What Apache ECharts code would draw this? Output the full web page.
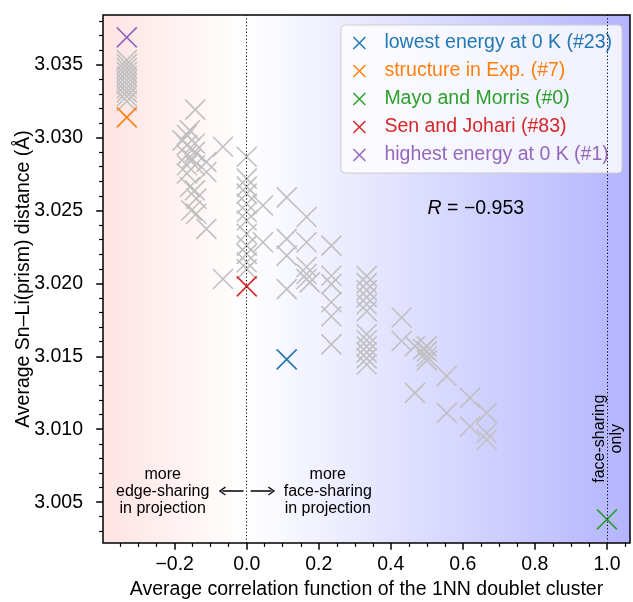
<!DOCTYPE html>
<html>
<head>
<meta charset="utf-8">
<title>Sn-Li(prism) distance vs. 1NN doublet correlation</title>
<script src="https://cdn.jsdelivr.net/npm/echarts@6.0.0/dist/echarts.min.js"></script>
<style>
html, body { margin: 0; padding: 0; background: #fff; }
#echarts_box { width: 633px; height: 602px; }
</style>
</head>
<body>
<div id="echarts_box"></div>
<script>
// all structures (gray crosses)
var grayX = [
    -0.333, -0.333, -0.333, -0.333, -0.333, -0.333, -0.333, -0.333, -0.333, -0.333, -0.333,
    -0.143, -0.178, -0.158, -0.166, -0.166, -0.144, -0.166, -0.153, -0.144, -0.166, -0.144,
    -0.166, -0.112, -0.112, -0.066, -0.158, -0.144, -0.140, -0.154, -0.140, -0.112, -0.066,
    0.0, 0.0, 0.0, 0.0, 0.0, 0.0, 0.0, 0.0, 0.0, 0.0, 0.0, 0.0,
    0.045, 0.045,
    0.111, 0.111, 0.111, 0.111,
    0.166, 0.166, 0.166, 0.166, 0.166, 0.175,
    0.235, 0.235, 0.235, 0.235, 0.235, 0.235,
    0.333, 0.333, 0.333, 0.333, 0.333, 0.333, 0.333, 0.333, 0.333, 0.333, 0.333, 0.333,
    0.43, 0.43,
    0.467, 0.467,
    0.5, 0.5, 0.5, 0.5, 0.49,
    0.555, 0.555,
    0.62, 0.62,
    0.666, 0.666, 0.666
];
var grayY = [
    3.03531, 3.03503, 3.03476, 3.03448, 3.03421, 3.03393, 3.03366, 3.03338, 3.03311, 3.03283, 3.03249,
    3.03191, 3.02980, 3.03049, 3.03017, 3.02948, 3.02959, 3.02879, 3.02856, 3.02902, 3.02810, 3.02810,
    3.02753, 3.02833, 3.02764, 3.02937, 3.02661, 3.02638, 3.02581, 3.02500, 3.02477, 3.02374, 3.02030,
    3.02868, 3.02718, 3.02663, 3.02615, 3.02546, 3.02489, 3.02431, 3.02340, 3.02259, 3.02202, 3.02145, 3.02098,
    3.02534, 3.02282,
    3.02590, 3.02305, 3.02190, 3.01961,
    3.02455, 3.02282, 3.02112, 3.02064, 3.02030, 3.02007,
    3.02259, 3.02052, 3.01995, 3.01871, 3.01775, 3.01582,
    3.02050, 3.02002, 3.01954, 3.01906, 3.01857, 3.01809, 3.01651, 3.01610, 3.01568, 3.01527, 3.01486, 3.01444,
    3.01766, 3.01605,
    3.01570, 3.01249,
    3.01568, 3.01534, 3.01499, 3.01472, 3.01548,
    3.01364, 3.01112,
    3.01215, 3.01019,
    3.01112, 3.00974, 3.00928
];

// highlighted structures
var markLabels = [
    'lowest energy at 0 K (#23)',
    'structure in Exp. (#7)',
    'Mayo and Morris (#0)',
    'Sen and Johari (#83)',
    'highest energy at 0 K (#1)'
];
var markX = [0.111, -0.333, 1.0, 0.0, -0.333];
var markY = [3.01479, 3.03138, 3.00382, 3.01979, 3.03687];
var markColors = ['#1f77b4', '#ff7f0e', '#2ca02c', '#d62728', '#9467bd'];

// tick labels
var xTicks = [-0.2, 0.0, 0.2, 0.4, 0.6, 0.8, 1.0];
var yTicks = [3.005, 3.010, 3.015, 3.020, 3.025, 3.030, 3.035];
var rText = '\u22120.953';

// axis ranges
var xMin = -0.399, xMax = 1.064;
var yMin = 3.0022, yMax = 3.0384;

// minor ticks (0.05 on x, 0.001 on y), majors left out
var xMinor = [];
for (var i = -7; i <= 21; i++) {
    if (i % 4 !== 0) xMinor.push(i * 0.05);
}
var yMinor = [];
for (var j = 3003; j <= 3038; j++) {
    if (j % 5 !== 0) yMinor.push(j / 1000);
}

var FONT = '"Liberation Sans", Arial, sans-serif';
var xSymbol = 'path://M0,0L10,10M10,0L0,10';
var headSymbol = 'path://M5,0L10,8L8.8,8.8L5,2.6L1.2,8.8L0,8Z';
var zeroAt = (0 - xMin) / (xMax - xMin);

var grayData = grayX.map(function (x, k) { return [x, grayY[k]]; });

var mycharts = echarts.init(document.getElementById('echarts_box'), null, { renderer: 'canvas' });

var series = [{
    type: 'scatter',
    name: 'all',
    xAxisIndex: 0,
    yAxisIndex: 0,
    data: grayData,
    symbol: xSymbol,
    symbolSize: 20,
    itemStyle: { color: 'none', borderColor: '#c0c0c0', borderWidth: 1.6, opacity: 1 },
    silent: true,
    z: 2,
    markLine: {
        silent: true,
        animation: false,
        symbol: ['none', 'none'],
        label: { show: false },
        lineStyle: { color: '#000', width: 1, type: [1.2, 2.2], opacity: 1 },
        emphasis: { disabled: true },
        data: [
            { xAxis: 0 },
            { xAxis: 1 },
            [
                { coord: [-0.009, 3.00576], symbol: 'none', lineStyle: { type: 'solid', width: 1.5 } },
                { coord: [-0.068, 3.00576], symbol: headSymbol, symbolSize: [9, 7] }
            ],
            [
                { coord: [0.011, 3.00576], symbol: 'none', lineStyle: { type: 'solid', width: 1.5 } },
                { coord: [0.069, 3.00576], symbol: headSymbol, symbolSize: [9, 7] }
            ]
        ]
    },
    markPoint: {
        silent: true,
        animation: false,
        symbol: 'circle',
        symbolSize: 1,
        itemStyle: { color: 'transparent' },
        label: {
            show: true,
            position: 'inside',
            color: '#000',
            fontFamily: FONT,
            fontSize: 16,
            lineHeight: 17,
            align: 'center',
            verticalAlign: 'middle'
        },
        data: [
            { coord: [-0.2333, 3.00575], label: { formatter: 'more\nedge-sharing\nin projection' } },
            { coord: [0.225, 3.00575], label: { formatter: 'more\nface-sharing\nin projection' } },
            { coord: [1.003, 3.00935], label: { formatter: 'face-sharing\nonly', rotate: 90 } },
            {
                coord: [0.636, 3.02515],
                label: {
                    formatter: '{i|R} = ' + rText,
                    fontSize: 19.5,
                    rich: { i: { fontStyle: 'italic', fontSize: 19.5, fontFamily: FONT, color: '#000' } }
                }
            }
        ]
    }
}];

markLabels.forEach(function (name, k) {
    series.push({
        type: 'scatter',
        name: name,
        xAxisIndex: 0,
        yAxisIndex: 0,
        data: [[markX[k], markY[k]]],
        symbol: xSymbol,
        symbolSize: 20,
        itemStyle: { color: 'none', borderColor: markColors[k], borderWidth: 1.6, opacity: 1 },
        silent: true,
        z: 3
    });
});

var optionObj = {
    animation: false,
    textStyle: { fontFamily: FONT },
    grid: [
        {
            left: 103, right: 3, top: 15, bottom: 59,
            containLabel: false,
            outerBoundsMode: 'none',
            show: true,
            borderColor: '#000',
            borderWidth: 1.5,
            backgroundColor: {
                type: 'linear', x: 0, y: 0, x2: 1, y2: 0,
                colorStops: [
                    { offset: 0, color: 'rgb(255,227,227)' },
                    { offset: zeroAt, color: 'rgb(255,255,255)' },
                    { offset: 1, color: 'rgb(180,180,255)' }
                ]
            }
        },
        // second grid only carries the minor ticks
        { left: 103, right: 3, top: 15, bottom: 59, show: false, containLabel: false, outerBoundsMode: 'none' }
    ],
    legend: {
        orient: 'vertical',
        right: 11,
        top: 25,
        itemWidth: 40,
        itemHeight: 12,
        itemGap: 8,
        padding: [8, 10, 8, 10],
        backgroundColor: 'rgba(255,255,255,0.8)',
        borderColor: '#cccccc',
        borderWidth: 1,
        borderRadius: 4,
        selectedMode: false,
        textStyle: { fontSize: 19.5, lineHeight: 18, fontFamily: FONT },
        data: markLabels.map(function (name, k) {
            return {
                name: name,
                icon: xSymbol,
                itemStyle: { color: 'none', borderColor: markColors[k], borderWidth: 1.5 },
                textStyle: { color: markColors[k] }
            };
        })
    },
    xAxis: [
        {
            type: 'value', gridIndex: 0, position: 'bottom',
            min: xMin, max: xMax,
            name: 'Average correlation function of the 1NN doublet cluster',
            nameLocation: 'middle',
            nameGap: 37,
            nameMoveOverlap: false,
            nameTextStyle: { fontSize: 19.5, color: '#000', fontFamily: FONT },
            axisLine: { show: false, onZero: false },
            axisTick: { show: true, inside: false, length: 6.8, customValues: xTicks, lineStyle: { color: '#000', width: 1.5 } },
            axisLabel: {
                show: true, customValues: xTicks, margin: 12,
                fontSize: 19.5, color: '#000', fontFamily: FONT,
                formatter: function (v) { return v.toFixed(1).replace('-', '\u2212'); }
            },
            splitLine: { show: false }
        },
        {
            type: 'value', gridIndex: 1, position: 'bottom',
            min: xMin, max: xMax,
            axisLine: { show: false, onZero: false },
            axisTick: { show: true, inside: false, length: 3.9, customValues: xMinor, lineStyle: { color: '#000', width: 1.2 } },
            axisLabel: { show: false },
            splitLine: { show: false }
        }
    ],
    yAxis: [
        {
            type: 'value', gridIndex: 0, position: 'left',
            min: yMin, max: yMax,
            name: 'Average Sn\u2013Li(prism) distance (\u00c5)',
            nameLocation: 'middle',
            nameGap: 69,
            nameMoveOverlap: false,
            nameTextStyle: { fontSize: 19.5, color: '#000', fontFamily: FONT },
            axisLine: { show: false, onZero: false },
            axisTick: { show: true, inside: false, length: 6.8, customValues: yTicks, lineStyle: { color: '#000', width: 1.5 } },
            axisLabel: {
                show: true, customValues: yTicks, margin: 20,
                fontSize: 19.5, color: '#000', fontFamily: FONT,
                formatter: function (v) { return v.toFixed(3); }
            },
            splitLine: { show: false }
        },
        {
            type: 'value', gridIndex: 1, position: 'left',
            min: yMin, max: yMax,
            axisLine: { show: false, onZero: false },
            axisTick: { show: true, inside: false, length: 3.9, customValues: yMinor, lineStyle: { color: '#000', width: 1.2 } },
            axisLabel: { show: false },
            splitLine: { show: false }
        }
    ],
    series: series
};

mycharts.setOption(optionObj);
</script>
</body>
</html>
